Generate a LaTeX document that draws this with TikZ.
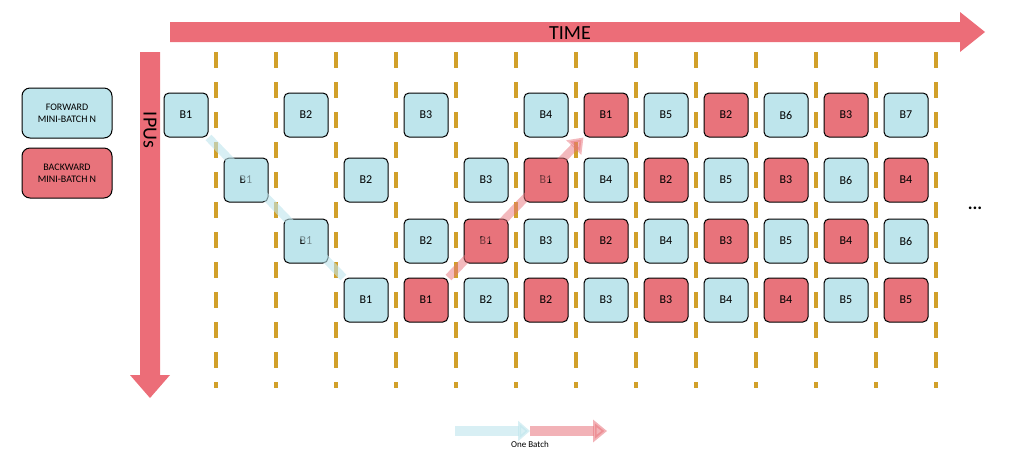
\documentclass[tikz,border=0pt]{standalone}
\usepackage{fontspec}
\setmainfont{Carlito}
\usetikzlibrary{arrows.meta,shapes.arrows}
\definecolor{fb}{HTML}{BEE5EC}
\definecolor{bb}{HTML}{E8737B}
\definecolor{ar}{HTML}{EC6D78}
\definecolor{dl}{HTML}{D1A02A}
\tikzset{
 blk/.style={draw=black,line width=1pt,rounded corners=5pt,minimum width=44pt,minimum height=44pt,font=\fontsize{12}{12}\selectfont,inner sep=0pt},
 fw/.style={blk,fill=fb},
 bw/.style={blk,fill=bb},
 sep/.style={dl,line width=3.2pt,dash pattern=on 16pt off 14pt},
 lg/.style={draw=black,line width=1pt,rounded corners=8pt,minimum width=90pt,minimum height=50pt,align=center,font=\fontsize{10}{12}\selectfont},
}
\begin{document}
\begin{tikzpicture}[x=1pt,y=-1pt]
\useasboundingbox (0,0) rectangle (1024,475);
% time arrow
\fill[ar] (170,22) -- (960,22) -- (960,12) -- (985,32) -- (960,52) -- (960,42) -- (170,42) -- cycle;
\node (time) at (570,33) {\fontsize{20}{20}\selectfont TIME};
% IPU arrow
\fill[ar] (140,52) -- (160,52) -- (160,375) -- (170,375) -- (150,398) -- (130,375) -- (140,375) -- cycle;
\node[rotate=-90] (ipus) at (150,130) {\fontsize{20}{20}\selectfont IPUs};
% dashed lines
\foreach \k in {0,...,12}{
 \draw[sep] (216+60*\k,52) -- (216+60*\k,388);
}
% legend
\node[lg,fill=fb] (lf) at (67,113) {FORWARD\\MINI-BATCH N};
\node[lg,fill=bb] (lb) at (67,173) {BACKWARD\\MINI-BATCH N};
% blocks
\foreach \c/\t/\s [count=\i] in {0/B1/fw,2/B2/fw,4/B3/fw,6/B4/fw,7/B1/bw,8/B5/fw,9/B2/bw,10/B6/fw,11/B3/bw,12/B7/fw}
 \node[\s] (a\c) at (186+60*\c,115) {\t};
\foreach \c/\t/\s in {1/B1/fw,3/B2/fw,5/B3/fw,6/B1/bw,7/B4/fw,8/B2/bw,9/B5/fw,10/B3/bw,11/B6/fw,12/B4/bw}
 \node[\s] (b\c) at (186+60*\c,180) {\t};
\foreach \c/\t/\s in {2/B1/fw,4/B2/fw,5/B1/bw,6/B3/fw,7/B2/bw,8/B4/fw,9/B3/bw,10/B5/fw,11/B4/bw,12/B6/fw}
 \node[\s] (c\c) at (186+60*\c,241) {\t};
\foreach \c/\t/\s in {3/B1/fw,4/B1/bw,5/B2/fw,6/B2/bw,7/B3/fw,8/B3/bw,9/B4/fw,10/B4/bw,11/B5/fw,12/B5/bw}
 \node[\s] (d\c) at (186+60*\c,300) {\t};
% diagonal arrows
\begin{scope}[on background layer/.style={}]
\end{scope}
\draw[fb,opacity=0.6,line width=8pt] (a0.south east) -- (d3.north west);
\draw[bb,opacity=0.5,line width=8pt,-{Triangle[length=14pt,width=20pt]}] (d4.north east) -- (a7.south west);
\node (dots) at (975,208) {\fontsize{18}{18}\selectfont\textbf{...}};
% batch legend arrow
\coordinate (o1) at (455,431);
\coordinate (o2) at (530,431);
\coordinate (o3) at (607,431);
\draw[fb,opacity=0.6,line width=10pt,-{Triangle[length=12pt,width=20pt]}] (o1) -- (o2);
\draw[bb,opacity=0.55,line width=10pt,-{Triangle[length=14pt,width=22pt]}] (o2) -- (o3);
\node[font=\fontsize{9}{9}\selectfont] (ob) at (530,444) {One Batch};
\end{tikzpicture}
\end{document}
